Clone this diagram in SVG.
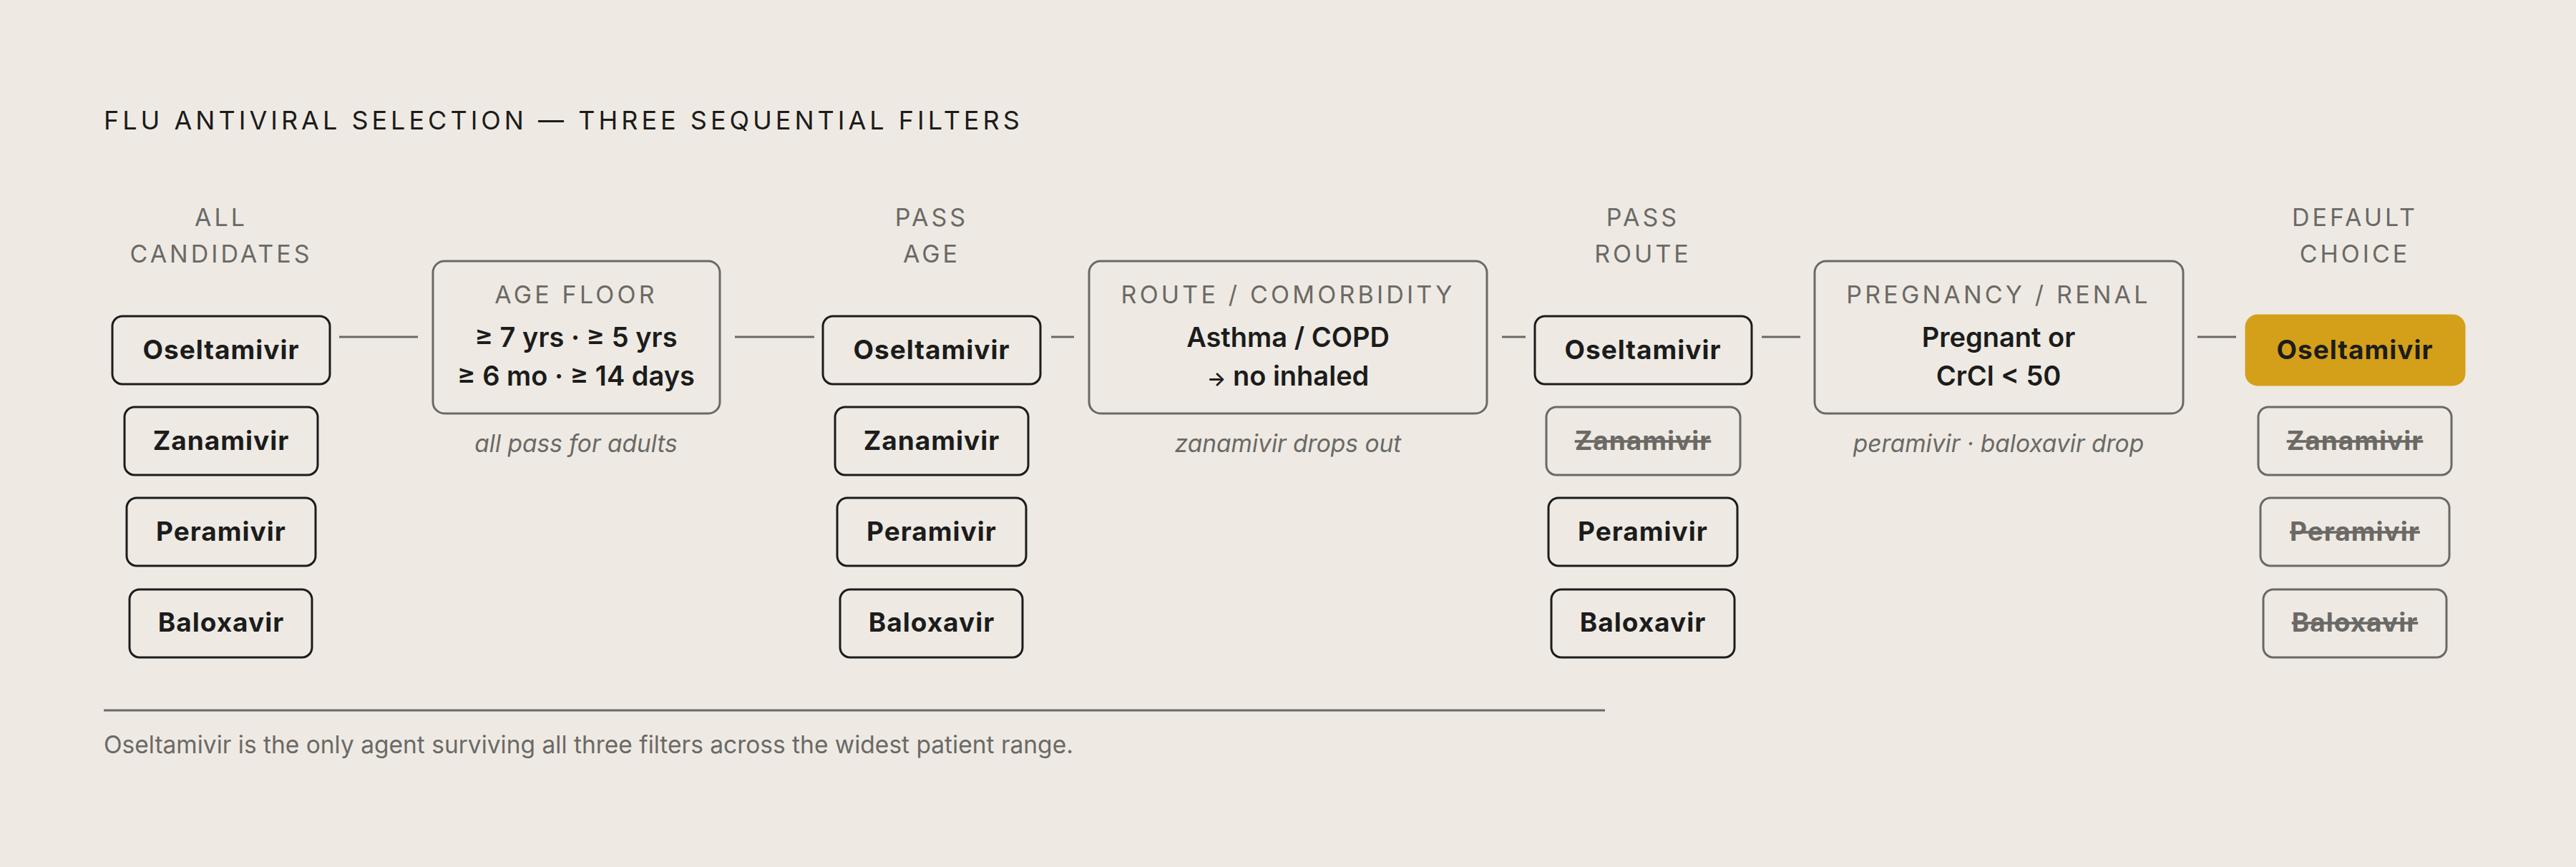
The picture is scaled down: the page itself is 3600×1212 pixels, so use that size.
<svg xmlns="http://www.w3.org/2000/svg" width="3600" height="1212" viewBox="0 0 3600 1212">
<style>
.bg{fill:#EEEAE3}
.title{font-family:Inter,"Liberation Sans",sans-serif;font-size:36px;fill:#1c1c1c;letter-spacing:5px}
.hdr{font-family:Inter,"Liberation Sans",sans-serif;font-size:34px;fill:#6b6966;letter-spacing:4px;text-anchor:middle}
.node rect{fill:#EEEAE3;stroke:#1c1c1c;stroke-width:3}
.node text{font-family:Inter,"Liberation Sans",sans-serif;font-size:37px;font-weight:700;fill:#1c1c1c;text-anchor:middle;letter-spacing:1px}
.out rect{fill:#EEEAE3;stroke:#6b6966;stroke-width:3}
.out text{font-family:Inter,"Liberation Sans",sans-serif;font-size:37px;font-weight:700;fill:#6b6966;text-anchor:middle;letter-spacing:1px;text-decoration:line-through}
.pick rect{fill:#D4A01A;stroke:#D4A01A;stroke-width:3}
.pick text{font-family:Inter,"Liberation Sans",sans-serif;font-size:37px;font-weight:700;fill:#1c1c1c;text-anchor:middle;letter-spacing:1px}
.filter rect{fill:#EEEAE3;stroke:#6b6966;stroke-width:3}
.ftitle{font-family:Inter,"Liberation Sans",sans-serif;font-size:34px;fill:#6b6966;letter-spacing:4.2px;text-anchor:middle}
.fbody{font-family:Inter,"Liberation Sans",sans-serif;font-size:38px;font-weight:600;fill:#1c1c1c;text-anchor:middle}
.arr{font-size:28px}
.cap{font-family:Inter,"Liberation Sans",sans-serif;font-size:33.5px;font-style:italic;fill:#6b6966;text-anchor:middle}
.conn line{stroke:#6b6966;stroke-width:3}
.foot{font-family:Inter,"Liberation Sans",sans-serif;font-size:33.5px;fill:#6b6966}
</style>
<rect class="bg" x="0" y="0" width="3600" height="1212"/>
<text class="title" x="145" y="181">FLU ANTIVIRAL SELECTION — THREE SEQUENTIAL FILTERS</text>

<g id="headers">
<text class="hdr" x="309" y="316">ALL</text>
<text class="hdr" x="309" y="367">CANDIDATES</text>
<text class="hdr" x="1302" y="316">PASS</text>
<text class="hdr" x="1302" y="367">AGE</text>
<text class="hdr" x="2296" y="316">PASS</text>
<text class="hdr" x="2296" y="367">ROUTE</text>
<text class="hdr" x="3291" y="316">DEFAULT</text>
<text class="hdr" x="3291" y="367">CHOICE</text>
</g>

<g id="connectors" class="conn">
<line x1="474" y1="471" x2="584" y2="471"/>
<line x1="1027" y1="471" x2="1138" y2="471"/>
<line x1="1469" y1="471" x2="1501" y2="471"/>
<line x1="2099" y1="471" x2="2132" y2="471"/>
<line x1="2462" y1="471" x2="2516" y2="471"/>
<line x1="3071" y1="471" x2="3125" y2="471"/>
</g>

<!-- column 1 -->
<g id="c1-oseltamivir" class="node"><rect x="157" y="442" width="304" height="95" rx="14"/><text x="309" y="502">Oseltamivir</text></g>
<g id="c1-zanamivir" class="node"><rect x="174" y="569" width="270" height="95" rx="14"/><text x="309" y="629">Zanamivir</text></g>
<g id="c1-peramivir" class="node"><rect x="177" y="696" width="264" height="95" rx="14"/><text x="309" y="756">Peramivir</text></g>
<g id="c1-baloxavir" class="node"><rect x="181" y="824" width="255" height="95" rx="14"/><text x="309" y="883">Baloxavir</text></g>

<!-- filter 1 -->
<g id="f1-age" class="filter">
<rect x="605" y="365" width="401" height="213" rx="16"/>
<text class="ftitle" x="805" y="424">AGE FLOOR</text>
<text class="fbody" x="805" y="485">≥ 7 yrs · ≥ 5 yrs</text>
<text class="fbody" x="805" y="539">≥ 6 mo · ≥ 14 days</text>
<text class="cap" x="805" y="632">all pass for adults</text>
</g>

<!-- column 2 -->
<g id="c2-oseltamivir" class="node"><rect x="1150" y="442" width="304" height="95" rx="14"/><text x="1302" y="502">Oseltamivir</text></g>
<g id="c2-zanamivir" class="node"><rect x="1167" y="569" width="270" height="95" rx="14"/><text x="1302" y="629">Zanamivir</text></g>
<g id="c2-peramivir" class="node"><rect x="1170" y="696" width="264" height="95" rx="14"/><text x="1302" y="756">Peramivir</text></g>
<g id="c2-baloxavir" class="node"><rect x="1174" y="824" width="255" height="95" rx="14"/><text x="1302" y="883">Baloxavir</text></g>

<!-- filter 2 -->
<g id="f2-route" class="filter">
<rect x="1522" y="365" width="556" height="213" rx="16"/>
<text class="ftitle" x="1800" y="424">ROUTE / COMORBIDITY</text>
<text class="fbody" x="1800" y="485">Asthma / COPD</text>
<text class="fbody" x="1800" y="539"><tspan class="arr">→</tspan> no inhaled</text>
<text class="cap" x="1800" y="632">zanamivir drops out</text>
</g>

<!-- column 3 -->
<g id="c3-oseltamivir" class="node"><rect x="2145" y="442" width="303" height="95" rx="14"/><text x="2296" y="502">Oseltamivir</text></g>
<g id="c3-zanamivir" class="out"><rect x="2161" y="569" width="271" height="95" rx="14"/><text x="2296" y="629">Zanamivir</text></g>
<g id="c3-peramivir" class="node"><rect x="2164" y="696" width="264" height="95" rx="14"/><text x="2296" y="756">Peramivir</text></g>
<g id="c3-baloxavir" class="node"><rect x="2168" y="824" width="256" height="95" rx="14"/><text x="2296" y="883">Baloxavir</text></g>

<!-- filter 3 -->
<g id="f3-pregnancy" class="filter">
<rect x="2536" y="365" width="515" height="213" rx="16"/>
<text class="ftitle" x="2793" y="424">PREGNANCY / RENAL</text>
<text class="fbody" x="2793" y="485">Pregnant or</text>
<text class="fbody" x="2793" y="539">CrCl &lt; 50</text>
<text class="cap" x="2793" y="632">peramivir · baloxavir drop</text>
</g>

<!-- column 4 -->
<g id="c4-oseltamivir" class="pick"><rect x="3139" y="441" width="305" height="97" rx="16"/><text x="3291" y="502">Oseltamivir</text></g>
<g id="c4-zanamivir" class="out"><rect x="3156" y="569" width="270" height="95" rx="14"/><text x="3291" y="629">Zanamivir</text></g>
<g id="c4-peramivir" class="out"><rect x="3159" y="696" width="264" height="95" rx="14"/><text x="3291" y="756">Peramivir</text></g>
<g id="c4-baloxavir" class="out"><rect x="3163" y="824" width="256" height="95" rx="14"/><text x="3291" y="883">Baloxavir</text></g>

<line x1="145" y1="993" x2="2243" y2="993" stroke="#6b6966" stroke-width="3"/>
<text class="foot" x="145" y="1053">Oseltamivir is the only agent surviving all three filters across the widest patient range.</text>
</svg>
